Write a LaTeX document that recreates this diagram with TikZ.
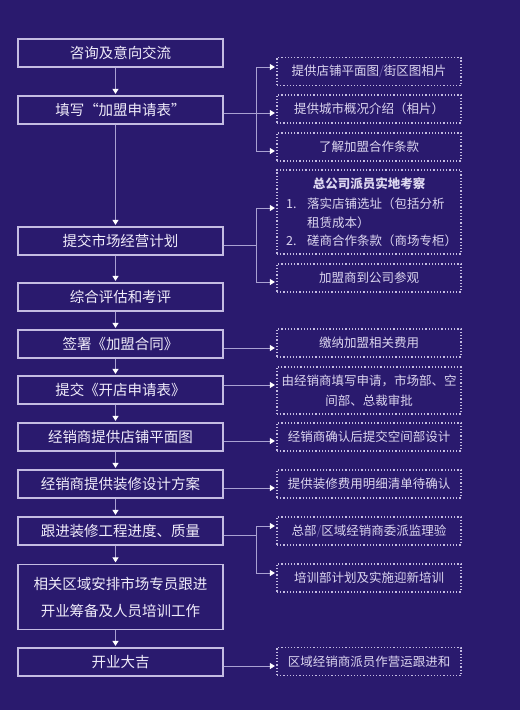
\documentclass[tikz,border=0pt]{standalone}
\usepackage{fontspec}
\newfontfamily\cjk{Noto Sans CJK SC}
\usetikzlibrary{arrows.meta}
\definecolor{bg}{HTML}{2A1A6E}
\definecolor{bord}{HTML}{C4BCE2}
\definecolor{lnc}{HTML}{A9A1D2}
\definecolor{txt}{HTML}{F0ECFA}
\definecolor{rtxt}{HTML}{DCD6F0}
\definecolor{dim}{HTML}{6A5CA8}
\begin{document}
\begin{tikzpicture}[x=1pt,y=-1pt,
  lbox/.style={draw=bord, line width=1.2pt, minimum width=205pt, minimum height=28pt,
    inner sep=0pt, text=txt, font=\cjk\fontsize{14.5}{27}\selectfont, align=center},
  rbox/.style={draw=bord, dotted, line width=1.2pt, minimum width=184pt, minimum height=28pt,
    inner sep=0pt, text=rtxt, font=\cjk\fontsize{12.5}{19.5}\selectfont, align=center},
  rtext/.style={inner sep=0pt, text=rtxt, font=\cjk\fontsize{12.5}{19.5}\selectfont},
  conn/.style={draw=lnc, line width=0.9pt},
  arr/.style={conn, -{Triangle[width=6pt,length=5pt,color=white]}, shorten >=1.5pt}]
\fill[bg] (0,0) rectangle (520,710);
\useasboundingbox (0,0) rectangle (520,710);

% left column
\node[lbox] (b1) at (120.5,53) {咨询及意向交流};
\node[lbox] (b2) at (120.5,110) {填写“加盟申请表”};
\node[lbox] (b3) at (120.5,241) {提交市场经营计划};
\node[lbox] (b4) at (120.5,297) {综合评估和考评};
\node[lbox] (b5) at (120.5,344) {签署《加盟合同》};
\node[lbox] (b6) at (120.5,390) {提交《开店申请表》};
\node[lbox] (b7) at (120.5,437) {经销商提供店铺平面图};
\node[lbox] (b8) at (120.5,484) {经销商提供装修设计方案};
\node[lbox] (b9) at (120.5,531) {跟进装修工程进度、质量};
\node[lbox, minimum height=65pt] (b10) at (120.5,597) {相关区域安排市场专员跟进\\开业筹备及人员培训工作};
\node[lbox] (b11) at (120.5,662) {开业大吉};

% right column
\node[rbox] (r1) at (369,71.5) {提供店铺平面图{\color{dim}/}街区图相片};
\node[rbox] (r2) at (369,109) {提供城市概况介绍（相片）};
\node[rbox] (r3) at (369,147) {了解加盟合作条款};
\node[rbox, minimum height=84pt] (r4) at (369,212) {};
\node[rtext, font=\cjk\bfseries\fontsize{12.5}{19.5}\selectfont] (r4t) at (369,184) {总公司派员实地考察};
\node[rtext, anchor=west] (r4n1) at (286,204) {1.};
\node[rtext, anchor=west] (r4a) at (307,204) {落实店铺选址（包括分析};
\node[rtext, anchor=west] (r4b) at (307,222.5) {租赁成本）};
\node[rtext, anchor=west] (r4n2) at (286,241) {2.};
\node[rtext, anchor=west] (r4c) at (307,241) {磋商合作条款（商场专柜）};
\node[rbox] (r5) at (369,278) {加盟商到公司参观};
\node[rbox] (r6) at (369,343) {缴纳加盟相关费用};
\node[rbox, minimum height=47pt] (r7) at (369,390.5) {由经销商填写申请，市场部、空\\间部、总裁审批};
\node[rbox] (r8) at (369,437) {经销商确认后提交空间部设计};
\node[rbox] (r9) at (369,484) {提供装修费用明细清单待确认};
\node[rbox] (r10) at (369,531) {总部{\color{dim}/}区域经销商委派监理验};
\node[rbox] (r11) at (369,578) {培训部计划及实施迎新培训};
\node[rbox] (r12) at (369,661.5) {区域经销商派员作营运跟进和};

% spine arrows
\coordinate (sp) at (115.5,0);
\foreach \a/\b in {b1/b2,b2/b3,b3/b4,b4/b5,b5/b6,b6/b7,b7/b8,b8/b9,b9/b10,b10/b11}
  \draw[arr] (\a.south -| sp) -- (\b.north -| sp);

% brackets and side arrows
\coordinate (j1) at (256,113);
\coordinate (j2) at (256,245);
\coordinate (j3) at (256,535);
\draw[conn] ([yshift=-3pt]b2.east) -- (j1);
\draw[arr] (j1) -- (j1 -| r2.west);
\draw[arr] (j1) |- ([yshift=4.5pt]r1.west);
\draw[arr] (j1) |- ([yshift=-4pt]r3.west);

\draw[conn] ([yshift=-4pt]b3.east) -- (j2);
\draw[arr] (j2) |- ([yshift=4pt]r4.west);
\draw[arr] (j2) |- ([yshift=-4pt]r5.west);

\draw[arr] ([yshift=-4pt]b5.east) -- ([yshift=-4pt]b5.east -| r6.west);
\draw[arr] ([yshift=5pt]b6.east) -- ([yshift=5pt]b6.east -| r7.west);
\draw[arr] ([yshift=-4pt]b7.east) -- ([yshift=-4pt]b7.east -| r8.west);
\draw[arr] ([yshift=-4pt]b8.east) -- ([yshift=-4pt]b8.east -| r9.west);

\draw[conn] ([yshift=-4pt]b9.east) -- (j3);
\draw[arr] (j3) |- ([yshift=5pt]r10.west);
\draw[arr] (j3) |- ([yshift=5pt]r11.west);

\draw[arr] ([yshift=-4pt]b11.east) -- ([yshift=-4pt]b11.east -| r12.west);
\end{tikzpicture}
\end{document}
